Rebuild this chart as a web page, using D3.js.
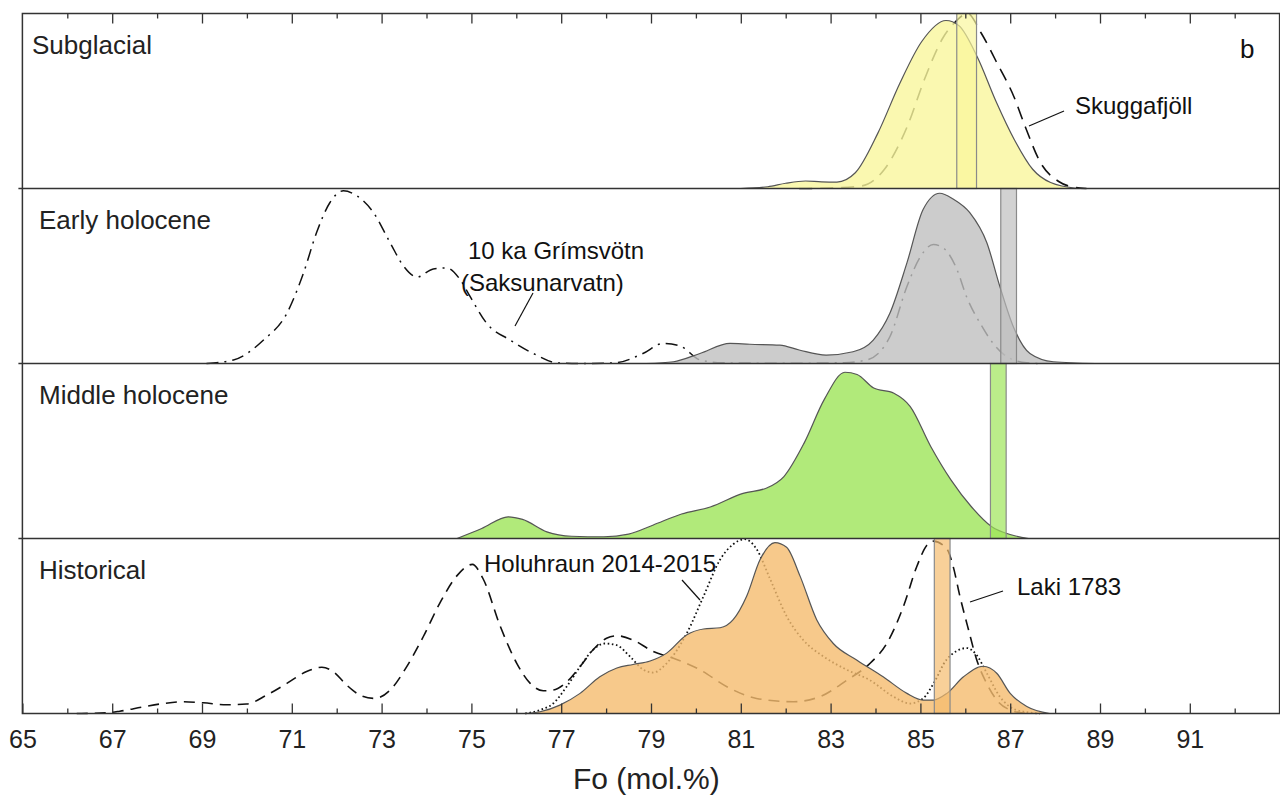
<!DOCTYPE html>
<html>
<head>
<meta charset="utf-8">
<script src="https://cdn.jsdelivr.net/npm/d3@7"></script>
<style>
  body { margin: 0; background: #fff; }
  svg { display: block; font-family: "Liberation Sans", Arial, sans-serif; }
</style>
</head>
<body>
<svg id="chart" width="1280" height="799"></svg>
<script>
// Fo (mol.%) vs relative density
const panelNames = ["Subglacial", "Early holocene", "Middle holocene", "Historical"];
const panelColors = ["#f9f69c", "#bfbfbf", "#9ee559", "#f5bc6e"];

const subglacial = [[81.0,0],[81.6,0.01],[82.0,0.03],[82.44,0.043],[82.8,0.038],[83.14,0.037],[83.55,0.09],[84.05,0.315],[84.54,0.6],[85.03,0.84],[85.57,0.96],[85.86,0.93],[86.27,0.75],[86.68,0.5],[87.09,0.28],[87.5,0.11],[87.9,0.034],[88.5,0]];
const earlyHolocene = [[78.9,0],[79.5,0.01],[80.09,0.057],[80.76,0.115],[81.2,0.11],[81.87,0.105],[82.3,0.077],[82.9,0.048],[83.5,0.067],[83.95,0.134],[84.32,0.287],[84.7,0.575],[85.06,0.88],[85.43,0.973],[85.73,0.94],[86.1,0.862],[86.48,0.69],[86.77,0.44],[87.07,0.21],[87.44,0.057],[87.96,0.01],[88.9,0]];
const middleHolocene = [[74.68,0],[75.23,0.057],[75.82,0.124],[76.14,0.109],[76.68,0.038],[77.23,0.013],[77.95,0.01],[78.5,0.025],[79.04,0.076],[79.68,0.14],[80.32,0.18],[81.05,0.258],[81.59,0.29],[81.96,0.354],[82.41,0.545],[82.86,0.795],[83.32,0.95],[83.59,0.937],[83.96,0.86],[84.41,0.83],[84.77,0.755],[85.23,0.526],[85.68,0.335],[86.14,0.18],[86.59,0.067],[87.04,0.02],[87.41,0]];
const historical = [[76.16,0],[76.53,0.01],[76.97,0.048],[77.42,0.115],[77.86,0.21],[78.24,0.26],[78.6,0.28],[78.98,0.3],[79.35,0.345],[79.8,0.45],[80.17,0.483],[80.54,0.49],[80.83,0.536],[81.13,0.67],[81.43,0.88],[81.76,0.977],[82.02,0.95],[82.32,0.785],[82.69,0.536],[83.06,0.4],[83.58,0.306],[84.17,0.21],[84.7,0.115],[85.06,0.077],[85.29,0.077],[85.59,0.115],[85.96,0.21],[86.4,0.27],[86.7,0.23],[87.0,0.115],[87.37,0.04],[87.88,0]];

const skuggafjoll = [[82.3,0],[83.0,0.003],[83.7,0.015],[84.2,0.11],[84.7,0.35],[85.1,0.63],[85.5,0.86],[85.77,0.95],[86.05,1.0],[86.35,0.89],[86.68,0.73],[87.09,0.52],[87.34,0.35],[87.67,0.15],[88.08,0.04],[88.4,0.008],[88.7,0]];
const grimsvotn = [[69.1,0],[69.7,0.02],[70.37,0.134],[70.89,0.287],[71.26,0.517],[71.55,0.747],[71.85,0.92],[72.15,0.987],[72.45,0.958],[72.82,0.862],[73.19,0.69],[73.49,0.556],[73.79,0.494],[74.15,0.54],[74.45,0.546],[74.75,0.479],[74.97,0.383],[75.34,0.23],[75.86,0.134],[76.38,0.057],[76.9,0.004],[77.4,0],[78.2,0.004],[78.82,0.057],[79.27,0.115],[79.65,0.1],[80.1,0.02],[80.6,0.004],[81.5,0.002],[82.5,0.002],[83.3,0.005],[83.8,0.02],[84.32,0.153],[84.7,0.44],[85.0,0.61],[85.29,0.68],[85.51,0.66],[85.81,0.54],[86.03,0.38],[86.33,0.23],[86.62,0.115],[86.92,0.04],[87.37,0.004],[87.7,0]];
const laki = [[66.21,0],[66.88,0.004],[67.17,0.013],[67.69,0.038],[68.14,0.057],[68.58,0.067],[69.03,0.061],[69.55,0.05],[69.99,0.054],[70.44,0.105],[70.89,0.172],[71.33,0.24],[71.67,0.264],[71.92,0.24],[72.22,0.163],[72.52,0.105],[72.85,0.086],[73.19,0.134],[73.56,0.268],[73.93,0.44],[74.3,0.632],[74.67,0.785],[75.02,0.852],[75.26,0.77],[75.64,0.5],[76.01,0.287],[76.31,0.172],[76.6,0.13],[76.82,0.134],[77.12,0.18],[77.42,0.268],[77.71,0.364],[78.01,0.43],[78.24,0.444],[78.6,0.42],[79.05,0.354],[79.5,0.316],[80.09,0.25],[80.69,0.153],[81.35,0.086],[82.17,0.067],[82.76,0.096],[83.36,0.19],[83.88,0.287],[84.25,0.4],[84.62,0.61],[84.92,0.84],[85.14,0.96],[85.29,0.985],[85.59,0.94],[85.73,0.84],[85.88,0.67],[86.07,0.48],[86.25,0.31],[86.48,0.17],[86.7,0.077],[87.0,0.02],[87.37,0]];
const holuhraun = [[76.2,0],[76.53,0.02],[76.82,0.057],[77.12,0.153],[77.42,0.268],[77.71,0.364],[77.97,0.4],[78.24,0.39],[78.53,0.326],[78.83,0.25],[79.05,0.234],[79.35,0.287],[79.8,0.46],[80.17,0.67],[80.54,0.88],[80.83,0.967],[81.09,0.996],[81.35,0.94],[81.65,0.77],[82.02,0.556],[82.39,0.42],[82.84,0.326],[83.36,0.25],[83.88,0.19],[84.4,0.096],[84.77,0.057],[85.06,0.086],[85.29,0.17],[85.59,0.31],[86.03,0.374],[86.25,0.335],[86.48,0.23],[86.77,0.096],[87.14,0.02],[87.66,0]];

// analysed glass / bar ranges per panel (Fo)
const barRanges = [[85.81,86.25],[86.79,87.14],[86.56,86.91],[85.31,85.66]];

const majorTicks = [65,67,69,71,73,75,77,79,81,83,85,87,89,91];
const minorTicks = [66,68,70,72,74,76,78,80,82,84,86,88,90,92];

const svg = d3.select("#chart");
const top0 = 13.5, panelH = 175;
const x = d3.scaleLinear().domain([65, 93]).range([22.4, 1279.6]);

const panelY = i => d3.scaleLinear().domain([0, 1]).range([top0 + (i + 1) * panelH, top0 + i * panelH]);

const fills = [subglacial, earlyHolocene, middleHolocene, historical];
const refLines = [
  [{ data: skuggafjoll, dash: "13,8", w: 1.6 }],
  [{ data: grimsvotn, dash: "12,6,2,6", w: 1.5 }],
  [],
  [{ data: laki, dash: "11,7", w: 1.6 }, { data: holuhraun, dash: "1.6,2.6", w: 1.8 }]
];

panelNames.forEach((name, i) => {
  const y = panelY(i);
  const g = svg.append("g");
  const line = d3.line().x(d => x(d[0])).y(d => y(d[1])).curve(d3.curveMonotoneX);
  const area = d3.area().x(d => x(d[0])).y0(y(0)).y1(d => y(d[1])).curve(d3.curveMonotoneX);

  // reference curves sit below the translucent fill
  refLines[i].forEach(r => {
    g.append("path").attr("d", line(r.data))
      .attr("fill", "none").attr("stroke", "#111")
      .attr("stroke-width", r.w).attr("stroke-dasharray", r.dash);
  });

  g.append("path").attr("d", area(fills[i]))
    .attr("fill", panelColors[i]).attr("fill-opacity", 0.8);
  g.append("path").attr("d", line(fills[i]))
    .attr("fill", "none").attr("stroke", "#555").attr("stroke-width", 1.2);

  const b = barRanges[i];
  g.append("rect")
    .attr("x", x(b[0])).attr("width", x(b[1]) - x(b[0]))
    .attr("y", y(1)).attr("height", y(0) - y(1))
    .attr("fill", panelColors[i]).attr("fill-opacity", 0.7)
    .attr("stroke", "#8a8a8a").attr("stroke-width", 1.2);

  g.append("text").attr("x", i == 0 ? 32 : 39).attr("y", y(1) + 40)
    .attr("font-size", 26).attr("fill", "#222").text(name);
});

// frame and panel separators
const frame = svg.append("g").attr("stroke", "#333").attr("stroke-width", 1.5).attr("fill", "none");
frame.append("rect").attr("x", x(65)).attr("y", top0).attr("width", x(93) - x(65)).attr("height", panelH * 4);
[1, 2, 3].forEach(k => {
  frame.append("line").attr("x1", x(65) - 4).attr("x2", x(93))
    .attr("y1", top0 + k * panelH).attr("y2", top0 + k * panelH);
});

// axes: bottom with labels, top ticks only
const yBottom = top0 + 4 * panelH;
function styleAxis(sel) {
  sel.select(".domain").remove();
  sel.selectAll(".tick line").attr("stroke", "#333").attr("stroke-width", 1.3);
}
svg.append("g").attr("transform", `translate(0,${yBottom})`)
  .call(d3.axisBottom(x).tickValues(majorTicks).tickSize(-10).tickPadding(17).tickFormat(d3.format("d")))
  .call(styleAxis)
  .call(s => s.selectAll("text").attr("font-size", 25).attr("fill", "#222")
    .attr("font-family", "Liberation Sans, Arial, sans-serif"));
svg.append("g").attr("transform", `translate(0,${yBottom})`)
  .call(d3.axisBottom(x).tickValues(minorTicks).tickSize(-5).tickFormat(""))
  .call(styleAxis);
svg.append("g").attr("transform", `translate(0,${top0})`)
  .call(d3.axisTop(x).tickValues(majorTicks.slice(1)).tickSize(-10).tickFormat(""))
  .call(styleAxis);
svg.append("g").attr("transform", `translate(0,${top0})`)
  .call(d3.axisTop(x).tickValues(minorTicks).tickSize(-5).tickFormat(""))
  .call(styleAxis);

svg.append("text").attr("x", 573).attr("y", 789).attr("font-size", 30).attr("fill", "#222").text("Fo (mol.%)");

// annotations
const notes = svg.append("g").attr("font-size", 24).attr("fill", "#111");
notes.append("text").attr("x", 1240).attr("y", 58).attr("font-size", 26).text("b");
notes.append("text").attr("x", 1075).attr("y", 114).text("Skuggafjöll");
notes.append("text").attr("x", 468).attr("y", 259).text("10 ka Grímsvötn");
notes.append("text").attr("x", 461).attr("y", 291).text("(Saksunarvatn)");
notes.append("text").attr("x", 484).attr("y", 572).text("Holuhraun 2014-2015");
notes.append("text").attr("x", 1017).attr("y", 595).text("Laki 1783");

const leaders = [[1064,111,1029,126],[533,293,515,326],[682,580,700,600],[1003,591,970,602]];
svg.append("g").selectAll("line").data(leaders).join("line")
  .attr("x1", d => d[0]).attr("y1", d => d[1]).attr("x2", d => d[2]).attr("y2", d => d[3])
  .attr("stroke", "#111").attr("stroke-width", 1.2);
</script>
</body>
</html>
